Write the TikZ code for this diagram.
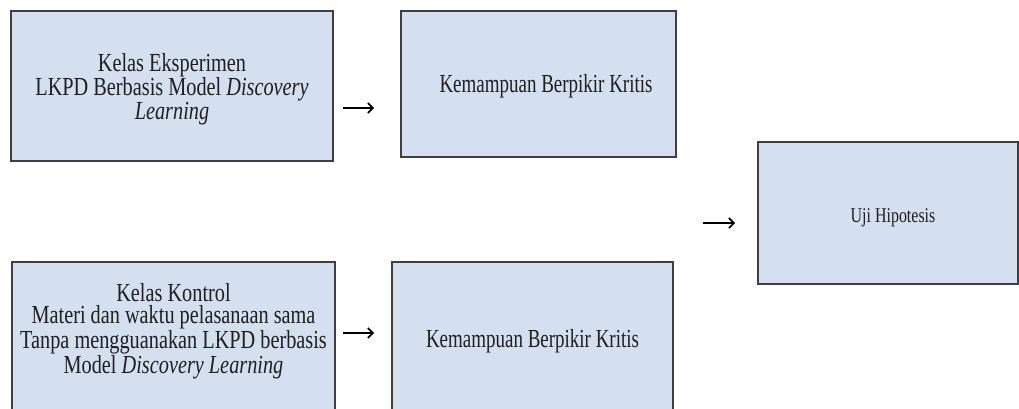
\documentclass[tikz,border=0pt]{standalone}
\usepackage{fontspec}
\setmainfont{Liberation Serif}
\newfontfamily\fwide{Liberation Serif}[FakeStretch=0.78]
\newfontfamily\fnarrow{Liberation Serif}[FakeStretch=0.73]
\newfontfamily\fsmall{Liberation Serif}[FakeStretch=0.76]
\usetikzlibrary{arrows.meta}
\definecolor{boxfill}{HTML}{D4E0EF}
\definecolor{boxline}{HTML}{3F3F3F}
\tikzset{
  boxnode/.style={draw=boxline, line width=1.3pt, fill=boxfill, inner sep=0pt},
  txt/.style={align=center, text=black!88},
  txtA/.style={txt, font=\fwide\fontsize{26}{23.5}\selectfont},
  txtD/.style={txt, font=\fwide\fontsize{26}{22.7}\selectfont},
  txtB/.style={txt, font=\fnarrow\fontsize{26}{23.5}\selectfont},
  txtC/.style={txt, font=\fsmall\fontsize{21}{23.5}\selectfont},
  arr/.style={line width=1.6pt, -{Straight Barb[length=5pt,width=10pt,line width=1.6pt]}}
}
\begin{document}
\begin{tikzpicture}[x=1pt,y=1pt]
\useasboundingbox (0,0) rectangle (1019,408);
% top row
\node[boxnode, minimum width=322pt, minimum height=150pt] (e1) at (172,322) {};
\node[txtA] (t1) at (172,319) {Kelas Eksperimen\\LKPD Berbasis Model \textit{Discovery}\\\textit{Learning}};
\node[boxnode, minimum width=275pt, minimum height=146pt] (e2) at (538.5,324) {};
\node[txtB] (t2) at (546,322) {Kemampuan Berpikir Kritis};
% right
\node[boxnode, minimum width=260pt, minimum height=142pt] (h) at (888,195) {};
\node[txtC] (th) at (893,190) {Uji Hipotesis};
% bottom row
\node[boxnode, minimum width=323pt, minimum height=154pt] (k1) at (173.5,69) {};
\node[txtD] (tk1) at (173.5,77) {Kelas Kontrol\\Materi dan waktu pelasanaan sama\\Tanpa mengguanakan LKPD berbasis\\Model \textit{Discovery Learning}};
\node[boxnode, minimum width=281pt, minimum height=154pt] (k2) at (532.5,69) {};
\node[txtB] (tk2) at (532.5,67) {Kemampuan Berpikir Kritis};
% arrows
\coordinate (a1s) at (343,300); \coordinate (a1e) at (374,300);
\coordinate (a2s) at (343,75);  \coordinate (a2e) at (374,75);
\coordinate (a3s) at (703,185); \coordinate (a3e) at (735,185);
\draw[arr] (a1s) -- (a1e);
\draw[arr] (a2s) -- (a2e);
\draw[arr] (a3s) -- (a3e);
\end{tikzpicture}
\end{document}
